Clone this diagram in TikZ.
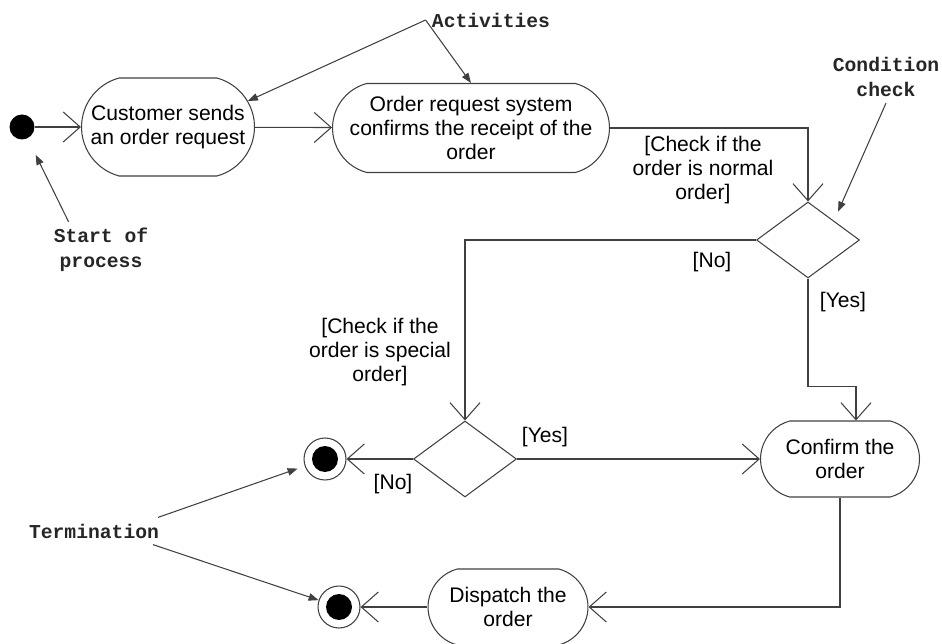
\documentclass[tikz,border=0pt]{standalone}
\usepackage{fontspec}
\setmainfont{Liberation Sans}
\setmonofont{Liberation Mono}
\usetikzlibrary{positioning}
\usetikzlibrary{shapes.geometric}
\usetikzlibrary{shapes.misc}
\usetikzlibrary{arrows.meta}

\begin{document}
\begin{tikzpicture}[
        x=0.02cm, y=-0.02cm,
        line width=0.6pt, draw=black!75,
        every node/.style={font=\fontsize{12}{13.6}\selectfont,text=black,align=center},
        activity/.style={rounded rectangle,rounded rectangle arc length=150,draw=black!75,inner sep=0pt},
        decision/.style={diamond,draw=black!75,minimum width=2.06cm,minimum height=1.52cm,inner sep=0pt},
        initial/.style={circle,fill=black,minimum size=0.5cm,inner sep=0pt},
        final/.style={circle,draw=black!75,minimum size=0.84cm,inner sep=0pt,
          path picture={\fill[black] (path picture bounding box.center) circle (0.26cm);}},
        remark/.style={font=\ttfamily\bfseries\fontsize{11.2}{14.2}\selectfont,text=black!85},
        flow/.style={-{Straight Barb[length=0.34cm,width=0.6cm]}},
        note/.style={-{Triangle[length=0.2cm,width=0.15cm]}}
      ]
        \useasboundingbox (0,0) rectangle (942,644);

        \node[initial] (start) at (22,127) {};
        \node[activity,minimum width=3.46cm,minimum height=1.96cm] (cust) at (168,127)
          {Customer sends\\an order request};
        \node[activity,minimum width=5.54cm,minimum height=1.78cm] (order) at (471,128)
          {Order request system\\confirms the receipt of the\\order};
        \node[decision] (d1) at (808,240) {};
        \node[decision] (d2) at (465,459) {};
        \node[activity,minimum width=3.18cm,minimum height=1.52cm] (conf) at (840,459)
          {Confirm the\\order};
        \node[activity,minimum width=3.2cm,minimum height=1.52cm] (disp) at (508,607)
          {Dispatch the\\order};
        \node[final] (end1) at (325,459) {};
        \node[final] (end2) at (339,607) {};

        \node (normal) at (703,170) {[Check if the\\order is normal\\order]};
        \node (no1) at (712,262) {[No]};
        \node (yes1) at (843,302) {[Yes]};
        \node (special) at (380,352) {[Check if the\\order is special\\order]};
        \node (yes2) at (545,437) {[Yes]};
        \node (no2) at (393,484) {[No]};

        \node[remark] (act) at (491,20) {Activities};
        \node[remark] (cond) at (886,77) {Condition\\check};
        \node[remark] (sop) at (101,250) {Start of\\process};
        \node[remark] (term) at (94,531) {Termination};

        \draw[flow] (start) -- (cust);
        \draw[flow] (cust) -- (order);
        \draw[flow] (order) -| (d1);
        \draw[flow] (d1) -| (d2);
        \draw[flow] (d1.south) -- ++(0,108) -| ([xshift=0.32cm]conf.north);
        \draw[flow] (d2) -- (conf);
        \draw[flow] (d2) -- (end1);
        \draw[flow] (conf) |- (disp);
        \draw[flow] (disp) -- (end2);

        \draw[note] (act.west) -- (cust.18);
        \draw[note] (act.west) -- (order.north);
        \draw[note,shorten >=0.2cm] (cond.south) -- (d1.north east);
        \draw[note,shorten >=0.36cm] (sop.139) -- (start);
        \draw[note,shorten >=0.15cm] (term.12) -- (end1);
        \draw[note] (term.-13) -- (end2);
      \end{tikzpicture}
\end{document}
